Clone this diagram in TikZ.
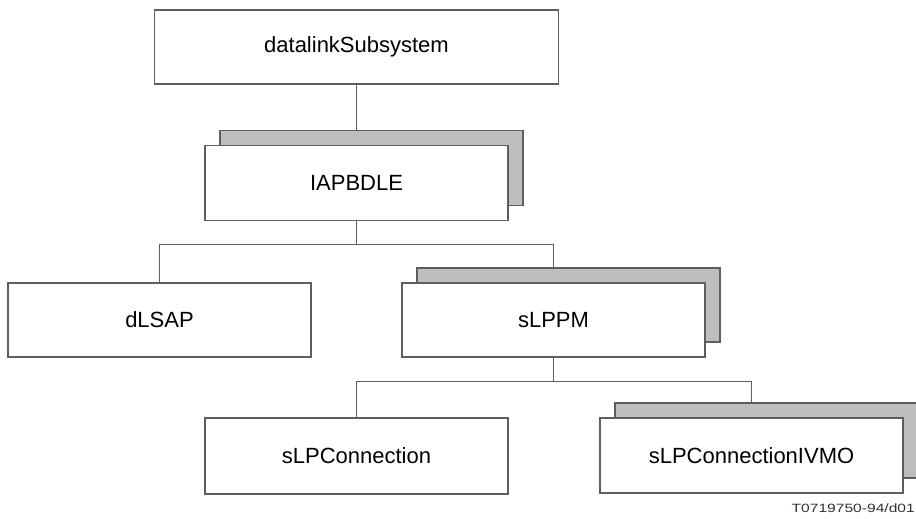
\documentclass[tikz,border=0pt]{standalone}
\usepackage{fontspec}
\setmainfont{Liberation Sans}
\usetikzlibrary{shadows}
\definecolor{linegray}{HTML}{5E5E5E}
\definecolor{shadegray}{HTML}{BEBEBE}
\begin{document}
\begin{tikzpicture}[x=1pt,y=-1pt,
  conn/.style={draw=linegray,line width=1.4pt},
  boxnode/.style={draw=linegray,line width=1.4pt,fill=white,rectangle,
    minimum width=303pt,minimum height=75pt,inner sep=0pt,
    font=\fontsize{22}{25}\selectfont},
  stacked/.style={boxnode,copy shadow={shadow xshift=15pt,shadow yshift=15pt,
    fill=shadegray,draw=linegray,line width=1.4pt}}]
\useasboundingbox (0,0) rectangle (916,519);
\fill[white] (0,0) rectangle (916,519);
\node[boxnode,minimum width=404pt,minimum height=74pt] (top) at (356.5,47) {datalinkSubsystem};
\node[stacked] (iap) at (356.5,183) {IAPBDLE};
\node[boxnode,minimum height=74pt] (dlsap) at (159.5,320) {dLSAP};
\node[stacked,minimum height=74pt] (slppm) at (553.5,320) {sLPPM};
\node[boxnode,minimum height=76pt] (slpc) at (356.5,456) {sLPConnection};
\node[stacked] (ivmo) at (751.5,455.5) {sLPConnectionIVMO};
\coordinate (iaptop) at ([yshift=15pt]iap.north);
\draw[conn] (top.south) -- (top.south |- iaptop);
\coordinate (j1) at ([yshift=-23pt]iap.south);
\draw[conn] (iap.south) -- (j1) -| (dlsap.north);
\draw[conn] (j1) -| ([yshift=15pt]slppm.north);
\coordinate (j2) at ([yshift=-24pt]slppm.south);
\draw[conn] (slppm.south) -- (j2) -| (slpc.north);
\draw[conn] (j2) -| ([yshift=15pt]ivmo.north);
\node[anchor=base east,inner sep=0pt,text=black!80] (lbl) at (915,512)
  {\scalebox{1.3}[1]{\fontsize{12}{14}\selectfont T0719750-94/d01}};
\end{tikzpicture}
\end{document}
